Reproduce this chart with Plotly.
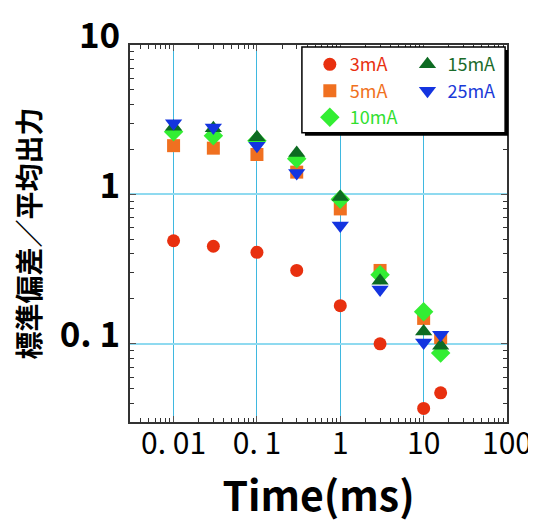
import plotly.graph_objects as go
import numpy as np

# ---- data ----
time_ms = [0.01, 0.03, 0.1, 0.3, 1, 3, 10, 16]
ma3 = [0.49, 0.45, 0.41, 0.31, 0.18, 0.10, 0.037, 0.047]
ma5 = [2.12, 2.04, 1.85, 1.41, 0.80, 0.31, 0.148, 0.110]
ma10 = [2.63, 2.47, 2.29, 1.73, 0.93, 0.29, 0.164, 0.087]
ma15 = [2.84, 2.77, 2.41, 1.89, 0.96, 0.264, 0.121, 0.097]
ma25 = [2.99, 2.80, 2.12, 1.39, 0.62, 0.231, 0.102, 0.115]

series_names = ["3mA", "5mA", "10mA", "15mA", "25mA"]
x_tickvals = [0.01, 0.1, 1, 10, 100]
x_ticktext = ["0. 01", "0. 1", "1", "10", "100"]
y_tickvals = [0.1, 1, 10]
y_ticktext = ["0. 1", "1", "10"]

FONT = "Noto Sans CJK JP"
styles = [
    dict(symbol="circle", color="#e8300f", size=13, legend="legend"),
    dict(symbol="square", color="#f07020", size=13, legend="legend"),
    dict(symbol="diamond", color="#33ee33", size=15, legend="legend"),
    dict(symbol="triangle-up", color="#0d6b22", size=15, legend="legend2"),
    dict(symbol="triangle-down", color="#1434e0", size=15, legend="legend2"),
]
text_colors = ["#e8300f", "#f07020", "#30e030", "#1a6b2a", "#1a3ad8"]

fig = go.Figure()
for name, vals, st, tc in zip(series_names, [ma3, ma5, ma10, ma15, ma25], styles, text_colors):
    fig.add_trace(go.Scatter(
        x=time_ms, y=vals, mode="markers",
        name=f'<span style="color:{tc}">{name}</span>',
        marker=dict(symbol=st["symbol"], color=st["color"], size=st["size"], line=dict(width=0)),
        legend=st["legend"],
    ))

minor_x = [m * 10.0 ** e for e in range(-3, 2) for m in range(2, 10)]
minor_y = [m * 10.0 ** e for e in range(-2, 1) for m in range(2, 10)]

# page body has an 8px margin, so the figure is 8px smaller than the window
fig.update_layout(
    width=528, height=515,
    margin=dict(l=122, r=29, t=37, b=101),
    paper_bgcolor="white", plot_bgcolor="white",
    font=dict(family=FONT, color="black"),
    xaxis=dict(
        type="log", range=[np.log10(0.003), 2], automargin=False,
        tickvals=x_tickvals, ticktext=x_ticktext,
        tickfont=dict(size=30, family=FONT),
        ticklabelstandoff=-6,
        ticks="inside", ticklen=6, tickcolor="#555",
        showline=True, linecolor="#333", linewidth=1.5, mirror="allticks",
        showgrid=True, gridcolor="#3fb8e0", gridwidth=1,
        zeroline=False,
        minor=dict(tickvals=minor_x, ticks="inside", ticklen=4, tickcolor="#333", showgrid=False),
        title=dict(text="Time(ms)", font=dict(size=41, family=FONT, weight="bold"), standoff=4),
    ),
    yaxis=dict(
        type="log", range=[np.log10(0.03), 1], automargin=False,
        tickvals=y_tickvals, ticktext=y_ticktext,
        tickfont=dict(size=35, family=FONT, weight="bold"),
        ticklabeloverflow="allow",
        ticklabelshift=-9,
        ticklabelstandoff=1,
        ticks="inside", ticklen=6, tickcolor="#555",
        showline=True, linecolor="#333", linewidth=1.5, mirror="allticks",
        showgrid=True, gridcolor="#8fdaf0", gridwidth=2,
        zeroline=False,
        minor=dict(tickvals=minor_y, ticks="inside", ticklen=4, tickcolor="#333", showgrid=False),
        title=dict(text="標準偏差／平均出力", font=dict(size=28, family=FONT, weight="bold"), standoff=14),
    ),
    legend=dict(x=0.477, y=0.997, xanchor="left", yanchor="top", bgcolor="rgba(0,0,0,0)",
                font=dict(size=18, family=FONT), tracegroupgap=0, itemwidth=30),
    legend2=dict(x=0.736, y=0.997, xanchor="left", yanchor="top", bgcolor="rgba(0,0,0,0)",
                 font=dict(size=18, family=FONT), tracegroupgap=0, itemwidth=30),
    shapes=[
        dict(type="rect", xref="paper", yref="paper", x0=0.464, x1=1.003, y0=0.759, y1=0.987,
             fillcolor="black", line=dict(width=0), layer="above"),
        dict(type="rect", xref="paper", yref="paper", x0=0.456, x1=0.995, y0=0.767, y1=0.995,
             fillcolor="white", line=dict(color="black", width=1.5), layer="above"),
    ],
)

fig.write_html("out.html")
